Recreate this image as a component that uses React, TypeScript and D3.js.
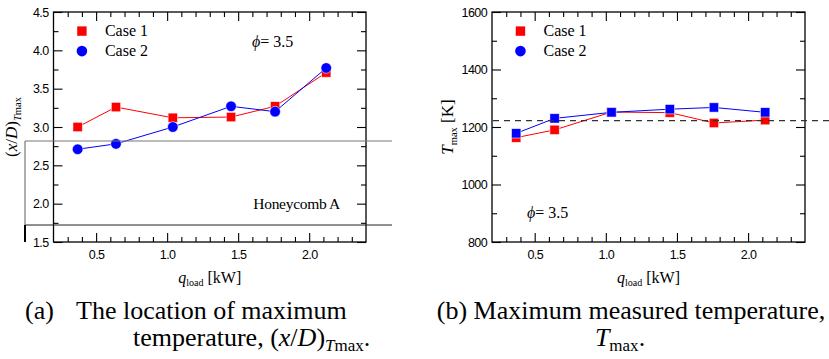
import React, { useEffect, useRef } from 'react';
import * as d3 from 'd3';

// heat load [kW], same for both panels
const Q_LOAD = [0.37, 0.64, 1.04, 1.45, 1.76, 2.12];

// (a) location of maximum temperature (x/D)_Tmax
const LOC_CASE1 = [3.0, 3.26, 3.12, 3.13, 3.27, 3.71];
const LOC_CASE2 = [2.71, 2.78, 3.0, 3.27, 3.2, 3.77];

// (b) maximum measured temperature [K]
const TMAX_CASE1 = [1163, 1190, 1252, 1250, 1214, 1224];
const TMAX_CASE2 = [1178, 1230, 1251, 1262, 1268, 1251];
const TMAX_REF = 1222;

const X_DOMAIN = [0.2, 2.4];
const X_MAJOR = [0.5, 1.0, 1.5, 2.0];
const X_MINOR = [0.3, 0.4, 0.6, 0.7, 0.8, 0.9, 1.1, 1.2, 1.3, 1.4, 1.6, 1.7, 1.8, 1.9, 2.1, 2.2, 2.3];
const LOC_DOMAIN = [1.5, 4.5];
const LOC_MAJOR = [1.5, 2.0, 2.5, 3.0, 3.5, 4.0, 4.5];
const LOC_MINOR = [1.75, 2.25, 2.75, 3.25, 3.75, 4.25];
const TMAX_DOMAIN = [800, 1600];
const TMAX_MAJOR = [800, 1000, 1200, 1400, 1600];
const TMAX_MINOR = [900, 1100, 1300, 1500];

const RED = '#ff0000';
const BLUE = '#0000ff';
const SANS = '"Liberation Sans", Arial, sans-serif';
const SERIF = '"Liberation Serif", "Times New Roman", serif';
const TOP = 12;
const BOTTOM = 242;

type Sel = d3.Selection<SVGGElement, unknown, null, undefined>;

const tidy = (sel: Sel) => {
  sel.select('.domain').remove();
  sel.selectAll('.tick line').attr('stroke', '#000').attr('stroke-width', 1.1);
  sel.selectAll('text').attr('fill', '#000').attr('font-family', SANS).attr('font-size', 12.5).attr('letter-spacing', -0.6);
};

function drawPanel(
  svg: d3.Selection<SVGSVGElement, unknown, null, undefined>,
  left: number, right: number,
  yDomain: number[], yMajor: number[], yMinor: number[], yFmt: (d: number) => string,
  s1: number[], s2: number[], s2Square: boolean,
) {
  const x = d3.scaleLinear().domain(X_DOMAIN).range([left, right]);
  const y = d3.scaleLinear().domain(yDomain).range([BOTTOM, TOP]);
  const g = svg.append('g');

  // ticks on all four sides, pointing inward
  g.append('g').attr('transform', `translate(0,${BOTTOM})`)
    .call(d3.axisBottom(x).tickValues(X_MAJOR).tickSize(-9).tickPadding(8).tickFormat(d => d3.format('.1f')(+d)))
    .call(tidy);
  g.append('g').attr('transform', `translate(0,${BOTTOM})`)
    .call(d3.axisBottom(x).tickValues(X_MINOR).tickSize(-5).tickFormat(() => ''))
    .call(tidy);
  g.append('g').attr('transform', `translate(0,${TOP})`)
    .call(d3.axisTop(x).tickValues(X_MAJOR).tickSize(-9).tickFormat(() => ''))
    .call(tidy);
  g.append('g').attr('transform', `translate(0,${TOP})`)
    .call(d3.axisTop(x).tickValues(X_MINOR).tickSize(-5).tickFormat(() => ''))
    .call(tidy);
  g.append('g').attr('transform', `translate(${left},0)`)
    .call(d3.axisLeft(y).tickValues(yMajor).tickSize(-9).tickPadding(5).tickFormat(d => yFmt(+d)))
    .call(tidy);
  g.append('g').attr('transform', `translate(${left},0)`)
    .call(d3.axisLeft(y).tickValues(yMinor).tickSize(-5).tickFormat(() => ''))
    .call(tidy);
  g.append('g').attr('transform', `translate(${right},0)`)
    .call(d3.axisRight(y).tickValues(yMajor).tickSize(-9).tickFormat(() => ''))
    .call(tidy);
  g.append('g').attr('transform', `translate(${right},0)`)
    .call(d3.axisRight(y).tickValues(yMinor).tickSize(-5).tickFormat(() => ''))
    .call(tidy);

  g.append('rect')
    .attr('x', left).attr('y', TOP).attr('width', right - left).attr('height', BOTTOM - TOP)
    .attr('fill', 'none').attr('stroke', '#000').attr('stroke-width', 1.3);

  const line = d3.line<number>().x((_, i) => x(Q_LOAD[i])).y(v => y(v));
  const series = [
    { vals: s1, color: RED, square: true },
    { vals: s2, color: BLUE, square: s2Square },
  ];
  series.forEach(s => {
    g.append('path').datum(s.vals)
      .attr('fill', 'none').attr('stroke', s.color).attr('stroke-width', 1).attr('d', line);
    s.vals.forEach((v, i) => {
      if (s.square) {
        g.append('rect')
          .attr('x', x(Q_LOAD[i]) - 4.7).attr('y', y(v) - 4.7).attr('width', 9.4).attr('height', 9.4)
          .attr('fill', s.color).attr('stroke', '#fff').attr('stroke-opacity', 0.7).attr('stroke-width', 0.8);
      } else {
        g.append('circle')
          .attr('cx', x(Q_LOAD[i])).attr('cy', y(v)).attr('r', 5.3)
          .attr('fill', s.color).attr('stroke', '#fff').attr('stroke-opacity', 0.7).attr('stroke-width', 0.8);
      }
    });
  });

  // legend, placed in axis fractions
  const lx = x(0.4);
  const ly1 = y(yDomain[0] + (yDomain[1] - yDomain[0]) * 0.917);
  const ly2 = y(yDomain[0] + (yDomain[1] - yDomain[0]) * 0.83);
  g.append('rect').attr('x', lx - 4.7).attr('y', ly1 - 4.7)
    .attr('width', 9.4).attr('height', 9.4).attr('fill', RED);
  g.append('circle').attr('cx', lx).attr('cy', ly2).attr('r', 5.3).attr('fill', BLUE);
  ['Case 1', 'Case 2'].forEach((t, i) => {
    g.append('text')
      .attr('x', lx + 23).attr('y', (i === 0 ? ly1 : ly2) + 5)
      .attr('font-family', SERIF).attr('font-size', 16).text(t);
  });

  // x title
  const xt = g.append('text')
    .attr('x', (left + right) / 2).attr('y', 283).attr('text-anchor', 'middle')
    .attr('font-family', SERIF).attr('font-size', 16);
  xt.append('tspan').attr('font-style', 'italic').text('q');
  xt.append('tspan').attr('font-size', 10).attr('dy', 3).text('load');
  xt.append('tspan').attr('dy', -3).text(' [kW]');

  return { x, y, g };
}

const App: React.FC = () => {
  const svgRef = useRef<SVGSVGElement>(null);

  useEffect(() => {
    const svg = d3.select(svgRef.current as SVGSVGElement);
    svg.selectAll('*').remove();

    // ---- panel (a)
    const a = drawPanel(svg, 53.5, 366, LOC_DOMAIN, LOC_MAJOR, LOC_MINOR, d => d3.format('.1f')(d),
      LOC_CASE1, LOC_CASE2, false);

    // stray frame lines around the lower-left of panel (a)
    svg.append('line').attr('x1', 25).attr('x2', 392).attr('y1', 141).attr('y2', 141)
      .attr('stroke', '#777').attr('stroke-width', 1.2);
    svg.append('line').attr('x1', 25).attr('x2', 392).attr('y1', 225).attr('y2', 225)
      .attr('stroke', '#222').attr('stroke-width', 1.2);
    svg.append('line').attr('x1', 25).attr('x2', 25).attr('y1', 141).attr('y2', 226)
      .attr('stroke', '#777').attr('stroke-width', 1.2);
    svg.append('line').attr('x1', 25).attr('x2', 25).attr('y1', 225).attr('y2', 242)
      .attr('stroke', '#000').attr('stroke-width', 2);

    const phiA = a.g.append('text').attr('x', 252).attr('y', 47)
      .attr('font-family', SERIF).attr('font-size', 16);
    phiA.append('tspan').attr('font-style', 'italic').text('ϕ');
    phiA.append('tspan').text('= 3.5');

    a.g.append('text').attr('x', 340).attr('y', 209).attr('text-anchor', 'end')
      .attr('font-family', SERIF).attr('font-size', 15.5).attr('letter-spacing', -0.3).text('Honeycomb A');

    const yta = svg.append('text')
      .attr('transform', `translate(17,${(TOP + BOTTOM) / 2}) rotate(-90)`)
      .attr('text-anchor', 'middle').attr('font-family', SERIF).attr('font-size', 17);
    yta.append('tspan').text('(');
    yta.append('tspan').attr('font-style', 'italic').text('x');
    yta.append('tspan').text('/');
    yta.append('tspan').attr('font-style', 'italic').text('D');
    yta.append('tspan').text(')');
    yta.append('tspan').attr('font-size', 10.5).attr('dy', 4).attr('font-style', 'italic').text('T');
    yta.append('tspan').attr('font-size', 10.5).text('max');

    // ---- panel (b)
    const b = drawPanel(svg, 492, 805, TMAX_DOMAIN, TMAX_MAJOR, TMAX_MINOR, d => String(d),
      TMAX_CASE1, TMAX_CASE2, true);

    svg.append('line')
      .attr('x1', 493).attr('x2', 829).attr('y1', b.y(TMAX_REF)).attr('y2', b.y(TMAX_REF))
      .attr('stroke', '#333').attr('stroke-width', 1.2).attr('stroke-dasharray', '6,5');

    const phiB = b.g.append('text').attr('x', 527).attr('y', 218)
      .attr('font-family', SERIF).attr('font-size', 16);
    phiB.append('tspan').attr('font-style', 'italic').text('ϕ');
    phiB.append('tspan').text('= 3.5');

    const ytb = svg.append('text')
      .attr('transform', `translate(453,${(TOP + BOTTOM) / 2}) rotate(-90)`)
      .attr('text-anchor', 'middle').attr('font-family', SERIF).attr('font-size', 17);
    ytb.append('tspan').attr('font-style', 'italic').text('T');
    ytb.append('tspan').attr('font-size', 10.5).attr('dy', 4).text('max');
    ytb.append('tspan').attr('dy', -4).text(' [K]');

    // ---- captions
    const cap = (x: number, y: number, anchor: string) => svg.append('text')
      .attr('x', x).attr('y', y).attr('text-anchor', anchor)
      .attr('font-family', SERIF).attr('font-size', 26);

    cap(25, 319, 'start').text('(a)');
    cap(76, 319, 'start').text('The location of maximum');
    const a2 = cap(133, 346, 'start');
    a2.append('tspan').text('temperature, (');
    a2.append('tspan').attr('font-style', 'italic').text('x');
    a2.append('tspan').text('/');
    a2.append('tspan').attr('font-style', 'italic').text('D');
    a2.append('tspan').text(')');
    a2.append('tspan').attr('font-size', 17).attr('dy', 5).attr('font-style', 'italic').text('T');
    a2.append('tspan').attr('font-size', 17).text('max');
    a2.append('tspan').attr('dy', -5).text('.');

    cap(631, 319, 'middle').text('(b) Maximum measured temperature,');
    const b2 = cap(620, 346, 'middle');
    b2.append('tspan').attr('font-style', 'italic').text('T');
    b2.append('tspan').attr('font-size', 17).attr('dy', 5).text('max');
    b2.append('tspan').attr('dy', -5).text('.');
  }, []);

  return (
    <svg ref={svgRef} width={829} height={359}
      style={{ position: 'absolute', left: 0, top: 0, background: '#fff', display: 'block' }} />
  );
};

export default App;
